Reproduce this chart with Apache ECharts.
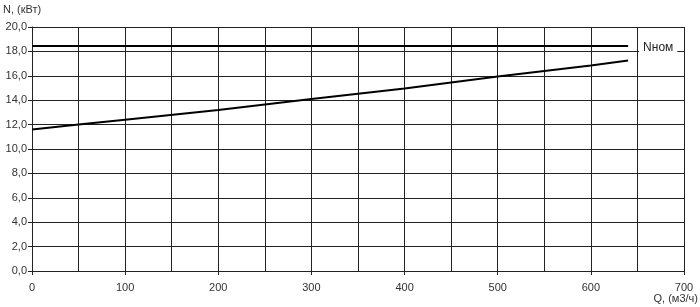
<!DOCTYPE html>
<html><head><meta charset="utf-8">
<script src="https://cdn.jsdelivr.net/npm/echarts@6/dist/echarts.min.js"></script>
<style>html,body{margin:0;padding:0;background:#fff}#c{width:700px;height:307px}</style>
</head><body><div id="c"></div>
<script>
const xTicks = [0,100,200,300,400,500,600,700];
const yTicks = [0,2,4,6,8,10,12,14,16,18,20];
const nNomName = 'Nном';
const nNomQ = [0, 640];
const nNomVal = [18.45, 18.45];
const powerQ = [0, 50, 100, 200, 300, 400, 500, 600, 640];
const powerN = [11.6, 12.0, 12.4, 13.2, 14.1, 14.95, 15.95, 16.85, 17.25];
const xName = 'Q, (м3/ч)';
const yName = 'N, (кВт)';

const chart = echarts.init(document.getElementById('c'));
const font = 'Arial, "Liberation Sans", sans-serif';
chart.setOption({
  animation: false,
  grid: {left: 32, right: 16, top: 27, bottom: 36, containLabel: false, outerBoundsMode: 'none'},
  graphic: [
    {type: 'text', right: 2, top: 293, style: {text: xName, font: '11px ' + font, fill: '#333'}},
    {type: 'text', left: 3, top: 4, style: {text: yName, font: '11px ' + font, fill: '#333'}}
  ],
  xAxis: {
    type: 'value', min: 0, max: 700, interval: 100,
    axisLine: {show: true, lineStyle: {color: '#222', width: 1}},
    axisTick: {show: true, length: 4, lineStyle: {color: '#222'}},
    axisLabel: {fontFamily: font, fontSize: 11, color: '#333', margin: 11, formatter: v => xTicks.includes(v) ? String(v) : ''},
    splitLine: {show: true, lineStyle: {color: '#222', width: 1}},
    minorTick: {show: false, splitNumber: 2},
    minorSplitLine: {show: true, lineStyle: {color: '#222', width: 1}}
  },
  yAxis: {
    type: 'value', min: 0, max: 20, interval: 2,
    axisLine: {show: true, lineStyle: {color: '#222', width: 1}},
    axisTick: {show: true, length: 4, lineStyle: {color: '#222'}},
    axisLabel: {fontFamily: font, fontSize: 11, color: '#333', margin: 5, formatter: v => yTicks.includes(v) ? v.toFixed(1).replace('.', ',') : ''},
    splitLine: {show: true, lineStyle: {color: '#222', width: 1}}
  },
  series: [
    {
      type: 'line', name: nNomName, data: nNomQ.map((q, i) => [q, nNomVal[i]]),
      symbol: 'none', lineStyle: {color: '#000', width: 2},
      endLabel: {show: true, formatter: nNomName, fontFamily: font, fontSize: 12, color: '#222', backgroundColor: '#fff', padding: [3, 4, 3, 4], distance: 11, offset: [0, 2]}
    },
    {
      type: 'line', name: 'N', data: powerQ.map((q, i) => [q, powerN[i]]),
      symbol: 'none', lineStyle: {color: '#000', width: 2}
    }
  ]
});
</script></body></html>
